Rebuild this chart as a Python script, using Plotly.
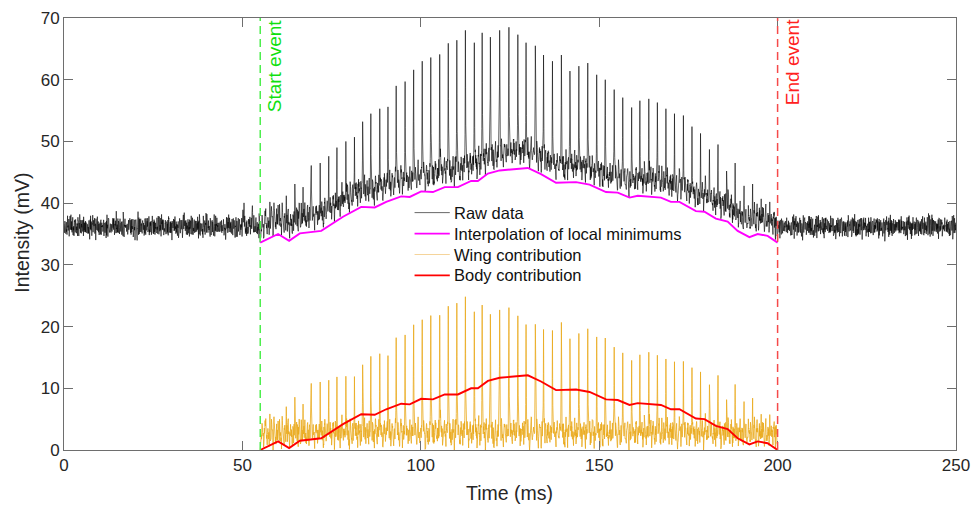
import numpy as np
import plotly.graph_objects as go

# ---- event window (ms) ----
t_start = 55.0
t_end = 200.0

# ---- wing-beat spikes: time (ms) and raw peak intensity (mV) ----
spike_t = [57.7, 60.0, 62.3, 64.7, 67.0, 69.3, 71.8, 74.2, 76.5, 79.0,
           81.4, 83.7, 86.0, 88.5, 90.8, 93.1, 95.6, 98.0, 100.4, 102.8,
           105.3, 107.7, 110.1, 112.5, 115.0, 117.2, 119.5,
           122.1, 124.7, 127.2, 129.5, 132.1, 134.4, 136.9, 139.4, 141.8, 144.3,
           146.8, 149.3, 151.7, 154.2, 156.6, 159.1, 161.4, 163.9, 166.3, 168.7,
           171.1, 173.6, 176.0, 178.4, 180.9, 183.3, 185.7, 188.1, 190.6, 193.0,
           195.4, 197.8]
spike_peak = [40.2, 39.7, 41.2, 43.1, 42.6, 46.1, 46.5, 47.6, 49.0, 50.0,
              50.7, 53.2, 54.5, 55.3, 55.6, 59.0, 59.7, 61.6, 63.0, 63.6,
              64.1, 65.9, 66.4, 68.0, 66.0, 67.6, 66.9,
              68.0, 68.5, 67.3, 66.0, 65.5, 64.0, 63.0, 64.0, 61.4, 62.2,
              62.7, 60.8, 60.0, 58.4, 57.1, 55.5, 56.6, 56.9, 56.3, 55.3,
              54.5, 54.2, 52.4, 51.3, 48.7, 49.5, 45.2, 46.5, 42.8, 43.1,
              40.7, 40.2]

# small spikes just before the start event
pre_spike_t = [50.4, 52.8]
pre_spike_peak = [38.8, 39.6]

# ---- local minimums of the raw signal (ms, mV) ----
min_t = [55.0, 60.0, 63.1, 66.1, 72.1, 78.2, 83.3, 87.1, 90.3, 94.5,
         96.9, 100.1, 103.4, 106.7, 110.4, 114.1, 116.0, 118.8, 122.1, 130.0,
         133.7, 137.9, 143.5, 147.3, 151.9, 155.2, 158.5, 160.8, 167.3, 170.1,
         172.5, 177.1, 179.5, 182.7, 186.0, 188.8, 192.1, 194.4, 197.2, 200.0]
min_v = [33.6, 35.0, 33.9, 35.1, 35.5, 37.8, 39.4, 39.3, 40.2, 41.1,
         41.0, 41.9, 41.8, 42.6, 42.6, 43.6, 43.6, 44.8, 45.3, 45.7,
         44.7, 43.3, 43.4, 43.0, 41.8, 41.7, 40.9, 41.2, 40.9, 40.2,
         40.2, 38.7, 38.6, 37.5, 37.0, 35.5, 34.5, 35.0, 34.7, 33.6]

# resting level of the sensor (mV)
baseline_level = 36.2

# ripple between two wing beats (mV above the local minimum), 12 phases
ripple = [0.3, 2.2, 3.8, 2.5, 1.2, 3.0, 4.2, 2.6, 1.5, 3.4, 2.4, 0.8]

# shape of one spike around its peak sample (peak at index 6)
spike_shape = [0.03, 0.06, 0.10, 0.18, 0.32, 0.55, 1.00, 0.60, 0.38,
               0.24, 0.15, 0.10, 0.06, 0.03]
spike_peak_idx = 6

# recorded sensor noise samples (mV)
noise_table = [0.3, -0.8, 1.1, -0.2, 0.6, -1.4, 0.9, 0.1, -0.5, 1.6,
               -0.9, 0.2, -0.3, 0.8, -1.1, 0.4, 1.3, -0.6, -1.8, 0.7,
               0.0, -0.4, 1.0, -1.2, 0.5, 0.2, -0.7, 1.9, -0.1, -0.9,
               0.6, -0.3, 1.2, -1.5, 0.4, 0.8, -0.2, -1.0, 0.3, 1.4,
               -0.6, 0.1, -1.3, 0.9, 0.5, -0.8, 2.1, -0.4, -0.1, 0.7,
               -1.6, 0.2, 1.0, -0.5, 0.6, -1.1, 0.3, -2.2, 0.8, 0.4,
               -0.3, 1.5, -0.7, 0.0, 0.9, -1.0, 0.5, -0.2, 1.1, -1.4,
               0.2, 0.7, -0.6, 1.7, -0.9, -0.3, 0.4, -1.2, 0.8, 0.1,
               -0.5, 1.3, -0.8, 0.6, -0.1, -1.7, 1.0, 0.3, -0.4, 0.9,
               -1.0, 0.2, 1.8, -0.6, -0.2, 0.5, -1.3, 0.7, 0.0, -0.9,
               1.2, -0.3, 0.4, -1.1, 0.6, 1.5, -0.7, -0.1, 0.8, -1.5,
               0.3, -0.4, 1.0, -0.8, 0.5, 2.0, -1.2, 0.1, -0.6, 0.9,
               -0.2, -1.9, 0.7, 0.4, -0.5, 1.1, -0.9]

# legend entries: label, colour, line width
legend_items = [("Raw data", "black", 0.6),
                ("Interpolation of local minimums", "#FF00FF", 1.8),
                ("Wing contribution", "#F5D49A", 1.0),
                ("Body contribution", "#FF0000", 1.8)]

# ---- build the sampled signal ----
dt = 0.05
t = np.linspace(0.0, 250.0, 5001)
n = len(t)
noise = np.asarray(noise_table)
i = np.arange(n)
jitter = 0.8 * noise[(i * 37) % len(noise)] + 0.5 * noise[(i * 13) % 61]

raw = baseline_level + 0.95 * jitter


def add_spike(sig, ts, amp):
    c = int(round(ts / dt)) - spike_peak_idx
    for k, s in enumerate(spike_shape):
        sig[c + k] += amp * s


for ts, pk in zip(pre_spike_t, pre_spike_peak):
    add_spike(raw, ts, pk - raw[int(round(ts / dt))])

win = (t >= t_start) & (t <= t_end)
floor = np.interp(t, min_t, min_v)

edges = np.array([t_start] + spike_t + [t_end])
seg = np.clip(np.searchsorted(edges, t, side="right") - 1, 0, len(edges) - 2)
phase = (t - edges[seg]) / (edges[seg + 1] - edges[seg])
ph_idx = np.clip((phase * len(ripple)).astype(int), 0, len(ripple) - 1)
wing = np.asarray(ripple)[ph_idx] + 0.7 * jitter
wing = np.clip(wing, 0.0, None)
for ts, pk in zip(spike_t, spike_peak):
    c = int(round(ts / dt))
    add_spike(wing, ts, pk - floor[c] - wing[c])

raw[win] = floor[win] + wing[win]
body = np.asarray(min_v) - min_v[0]

# ---- figure ----
fig = go.Figure()
fig.add_trace(go.Scatter(x=t, y=raw, mode="lines", name="Raw data",
                         line=dict(color="black", width=0.6)))
fig.add_trace(go.Scatter(x=min_t, y=min_v, mode="lines",
                         name="Interpolation of local minimums",
                         line=dict(color="#FF00FF", width=1.9)))
fig.add_trace(go.Scatter(x=t[win], y=wing[win], mode="lines",
                         name="Wing contribution",
                         line=dict(color="#EAAA1C", width=0.8)))
fig.add_trace(go.Scatter(x=min_t, y=body, mode="lines",
                         name="Body contribution",
                         line=dict(color="#FF0000", width=1.9)))

axis_common = dict(showgrid=False, zeroline=False, showline=True,
                   linecolor="#6e6e6e", linewidth=1, mirror="ticks",
                   ticks="inside", ticklen=9, tickcolor="#6e6e6e",
                   ticklabeloverflow="allow",
                   tickfont=dict(size=17, color="#262626"))
fig.update_xaxes(range=[0, 250], tickvals=[0, 50, 100, 150, 200, 250],
                 **axis_common)
fig.update_yaxes(range=[0, 70], tickvals=[0, 10, 20, 30, 40, 50, 60, 70],
                 **axis_common)

fig.add_shape(type="line", x0=t_start, x1=t_start, y0=0, y1=70,
              xref="x", yref="y", layer="above",
              line=dict(color="#4DEE4D", width=1.5, dash="8px,5px"))
fig.add_shape(type="line", x0=t_end, x1=t_end, y0=0, y1=70,
              xref="x", yref="y", layer="above",
              line=dict(color="#F54A4A", width=1.5, dash="8px,5px"))

# event labels, placed just right of each event line near the top
fig.add_annotation(x=0.2363, y=1.0, xref="paper", yref="paper", yshift=1,
                   text="Start event", textangle=-90, showarrow=False,
                   xanchor="center", yanchor="top",
                   font=dict(size=19, color="#10E010"))
fig.add_annotation(x=0.8163, y=1.0, xref="paper", yref="paper", yshift=1,
                   text="End event", textangle=-90, showarrow=False,
                   xanchor="center", yanchor="top",
                   font=dict(size=19, color="#FF2020"))
fig.add_annotation(x=0.4994, y=-0.099, xref="paper", yref="paper",
                   text="Time (ms)", showarrow=False, xanchor="center",
                   yanchor="middle", font=dict(size=19.5, color="#262626"))
fig.add_annotation(x=-0.047, y=0.503, xref="paper", yref="paper",
                   text="Intensity (mV)", textangle=-90, showarrow=False,
                   xanchor="center", yanchor="middle",
                   font=dict(size=19.5, color="#262626"))

# legend drawn as line samples with text labels (no frame)
leg_x0, leg_x1, leg_text_x = 0.393, 0.4325, 0.4345
leg_y_top, leg_step = 0.5495, 0.0485
for k, (label, color, width) in enumerate(legend_items):
    yk = leg_y_top - k * leg_step
    fig.add_shape(type="line", xref="paper", yref="paper",
                  x0=leg_x0, x1=leg_x1, y0=yk, y1=yk, layer="above",
                  line=dict(color=color, width=width))
    fig.add_annotation(x=leg_text_x, y=yk, xref="paper", yref="paper",
                       text=label, showarrow=False, xanchor="left",
                       yanchor="middle", font=dict(size=16.5, color="#111111"))

fig.update_layout(
    width=979, height=512,
    margin=dict(l=64, r=22, t=9, b=62),
    plot_bgcolor="white", paper_bgcolor="white",
    font=dict(family="Arial, Liberation Sans, sans-serif", color="#262626"),
    showlegend=False,
)

fig.write_html("out.html")
